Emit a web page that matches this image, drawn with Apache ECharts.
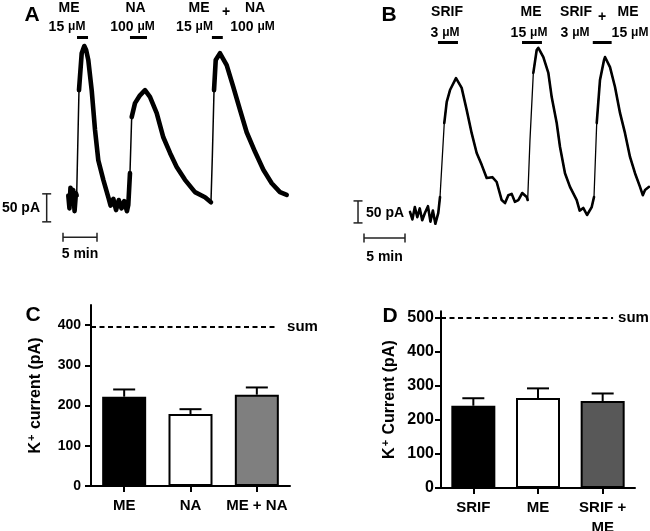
<!DOCTYPE html>
<html><head><meta charset="utf-8">
<script src="https://cdn.jsdelivr.net/npm/echarts@6/dist/echarts.min.js"></script>
<style>html,body{margin:0;padding:0;background:#fff}#c{width:650px;height:531px}</style>
</head><body><div id="c"></div>
<script>
const FONT = '"Liberation Sans", Arial, sans-serif';

// ---------- Panel A: K+ current trace (time in min, current in pA) ----------
const traceA_min = [0.78,0.95,1.1,1.3,1.5,1.7,1.9,2.01,2.35,2.75,3.13,3.4,3.72,4.22,4.71,5.19,5.93,6.66,7.0,7.4,7.8,8.2,8.6,9.0,9.4,9.6,9.85,10.10,10.59,11.32,12.06,12.79,13.78,14.75,15.74,16.72,17.94,19.41,20.88,21.76,21.96,22.21,22.46,23.09,24.07,25.04,26.03,27.01,28.24,29.46,30.69,31.91,32.90];
const traceA_pA  = [8,-15,22,-5,18,-20,12,8,196,262,275,268,250,196,125,71,36,5,-10,2,-18,0,-15,-2,-20,-9,48,148,173,187,196,184,155,112,84,59,36,14,5,-4,77,196,250,262,241,202,161,121,86,54,30,14,9];
const drugA_start = [2.06, 9.85, 21.9];
const drugA_end   = [3.68, 12.35, 23.5];
const drugA_level = 290;
const scaleA_pA = [-39, 11];      // 50 pA bar
const scaleA_min = [0, 5];        // 5 min bar

// ---------- Panel B ----------
const traceB_min = [5.61,5.9,6.2,6.5,6.8,7.1,7.44,7.8,8.1,8.4,8.7,9.06,9.27,9.55,9.79,10.09,10.49,11.22,11.91,12.52,13.13,13.74,14.35,14.96,15.65,16.18,16.79,17.20,17.6,18.01,18.4,18.82,19.3,19.84,19.96,20.24,20.65,21.06,21.26,21.87,22.48,22.89,23.50,23.90,24.51,25.12,25.94,26.3,26.74,27.2,27.77,28.05,28.38,28.78,29.27,29.39,30.00,30.61,31.22,31.83,32.44,33.05,33.66,34.0,34.27,34.76];
const traceB_pA  = [7,-10,18,-5,15,-12,5,20,-15,10,-20,5,41,132,209,257,284,311,289,239,186,141,114,84,86,75,34,27,45,48,30,34,50,41,34,170,323,375,380,359,323,268,209,155,95,64,34,10,16,0,18,41,209,307,352,359,336,291,232,186,132,95,64,45,57,64];
const drugB_start = [9.02, 19.27, 27.9];
const drugB_end   = [11.46, 21.7, 30.2];
const drugB_level = 392;
const scaleB_pA = [-18, 32];
const scaleB_min = [0, 5];

// ---------- Panel C ----------
const catsC = ['ME', 'NA', 'ME + NA'];
const meanC = [222, 179, 227];
const semC  = [18, 12, 18];
const sumC  = 395;
const ticksC = [0, 100, 200, 300, 400];

// ---------- Panel D ----------
const catsD = ['SRIF', 'ME', 'SRIF +\nME'];
const meanD = [242, 265, 256];
const semD  = [22, 28, 22];
const sumD  = 500;
const ticksD = [0, 100, 200, 300, 400, 500];

const colorsC = ['#000000', '#ffffff', '#7f7f7f'];
const colorsD = ['#000000', '#ffffff', '#585858'];

const zip = (a, b) => a.map((v, i) => [v, b[i]]);

const series = [];
// traces: thin line for the whole record, thicker (noisy-looking) band on slow phases
function traceSeries(xi, yi, t, v, thin, thick, fastSlope) {
  const out = [{type:'line', xAxisIndex:xi, yAxisIndex:yi, data: zip(t, v), showSymbol:false, symbol:'none',
    lineStyle:{color:'#000', width:thin, join:'round'}, silent:true}];
  let run = [];
  const flush = () => { if (run.length > 1) out.push({type:'line', xAxisIndex:xi, yAxisIndex:yi, data: run, showSymbol:false, symbol:'none',
    lineStyle:{color:'#000', width:thick, join:'round', cap:'round'}, silent:true}); run = []; };
  for (let i = 0; i < t.length - 1; i++) {
    const slope = Math.abs((v[i+1] - v[i]) / (t[i+1] - t[i]));
    if (slope < fastSlope) {
      if (!run.length) run.push([t[i], v[i]]);
      run.push([t[i+1], v[i+1]]);
    } else flush();
  }
  flush();
  return out;
}
series.push(...traceSeries(0, 0, traceA_min, traceA_pA, 1.5, 4.6, 300));
series.push(...traceSeries(1, 1, traceB_min, traceB_pA, 1.3, 2.6, 300));
// drug application bars
drugA_start.forEach((s, i) => series.push({type:'line', xAxisIndex:0, yAxisIndex:0, data:[[s, drugA_level],[drugA_end[i], drugA_level]], symbol:'none', lineStyle:{color:'#000', width:3}, silent:true}));
drugB_start.forEach((s, i) => series.push({type:'line', xAxisIndex:1, yAxisIndex:1, data:[[s, drugB_level],[drugB_end[i], drugB_level]], symbol:'none', lineStyle:{color:'#000', width:3}, silent:true}));
// scale bars
function scaleBar(xi, yi, pts, cap) {
  return {type:'line', xAxisIndex:xi, yAxisIndex:yi, data:pts, symbol:'rect', symbolSize:cap, showSymbol:true,
    lineStyle:{color:'#222', width:1.5}, itemStyle:{color:'#222'}, silent:true};
}
series.push(scaleBar(0, 0, [[-2.4, scaleA_pA[0]], [-2.4, scaleA_pA[1]]], [9, 1.5]));
series.push(scaleBar(0, 0, [[scaleA_min[0], -66.6], [scaleA_min[1], -66.6]], [1.5, 9]));
series.push(scaleBar(1, 1, [[-0.73, scaleB_pA[0]], [-0.73, scaleB_pA[1]]], [9, 1.5]));
series.push(scaleBar(1, 1, [[scaleB_min[0], -52.3], [scaleB_min[1], -52.3]], [1.5, 9]));

// bars
function bars(xi, yi, vals, colors) {
  return {type:'bar', xAxisIndex:xi, yAxisIndex:yi, barWidth:44, silent:true,
    data: vals.map((v, i) => ({value:v, itemStyle:{color:colors[i], borderColor:'#000', borderWidth:2}}))};
}
function errs(xi, yi, vals, e) {
  return {type:'custom', xAxisIndex:xi, yAxisIndex:yi, z:5, silent:true,
    data: vals.map((v, i) => [i, v, v + e[i]]),
    renderItem: (p, api) => {
      const b = api.coord([api.value(0), api.value(1)]);
      const t = api.coord([api.value(0), api.value(2)]);
      const hw = 11;
      return {type:'group', children:[
        {type:'line', shape:{x1:b[0], y1:b[1], x2:t[0], y2:t[1]}, style:{stroke:'#000', lineWidth:2}},
        {type:'line', shape:{x1:t[0]-hw, y1:t[1], x2:t[0]+hw, y2:t[1]}, style:{stroke:'#000', lineWidth:2}}
      ]};
    }};
}
function sumLine(xi, yi, v, end, dist) {
  return {type:'line', xAxisIndex:xi, yAxisIndex:yi, data:[[0, v],[end, v]], symbol:'none', silent:true,
    lineStyle:{color:'#000', width:2, type:[5, 3.5]},
    endLabel:{show:true, formatter:'sum', distance:dist, color:'#000', fontSize:15, fontWeight:'bold', fontFamily:FONT}};
}
series.push(bars(2, 2, meanC, colorsC), errs(2, 2, meanC, semC), sumLine(4, 2, sumC, 0.935, 10));
series.push(bars(3, 3, meanD, colorsD), errs(3, 3, meanD, semD), sumLine(5, 3, sumD, 0.887, 5));

const axisCommon = {axisLine:{show:true, lineStyle:{color:'#000', width:2}}, splitLine:{show:false}};
function valueY(gi, max, ticks, name, labelSize, gap, margin) {
  return Object.assign({gridIndex:gi, type:'value', min:0, max:max,
    axisTick:{show:true, length:6, lineStyle:{color:'#000', width:2}, customValues:ticks},
    axisLabel:{color:'#000', fontSize:labelSize, fontWeight:'bold', fontFamily:FONT, margin:margin, customValues:ticks},
    name:name, nameLocation:'middle', nameGap:gap, nameRotate:90,
    nameTextStyle:{color:'#000', rich:{
      a:{fontSize:16, fontWeight:'bold', fontFamily:FONT, color:'#000'},
      s:{fontSize:11, fontWeight:'bold', fontFamily:FONT, color:'#000', verticalAlign:'top', padding:[0,1,9,1]}
    }}}, axisCommon);
}
function catX(gi, cats) {
  return Object.assign({gridIndex:gi, type:'category', data:cats,
    axisTick:{show:true, alignWithLabel:true, length:6, lineStyle:{color:'#000', width:2}},
    axisLabel:{color:'#000', fontSize:15, fontWeight:'bold', fontFamily:FONT, margin:10, lineHeight:20, interval:0}}, axisCommon);
}

const G = [];
function txt(text, x, y, size, align) {
  G.push({type:'text', x:x, y:y, silent:true, style:{text:text, fontSize:size, fontWeight:'bold', fontFamily:FONT, fill:'#000', align:align || 'center', verticalAlign:'middle'}});
}
function conc(num, x, y) {
  G.push({type:'text', x:x, y:y, silent:true, style:{text:'{n|' + num + ' }{u|μM}', align:'center', verticalAlign:'middle',
    rich:{n:{fontSize:14, fontWeight:'bold', fontFamily:FONT, fill:'#000'}, u:{fontSize:12, fontWeight:'bold', fontFamily:FONT, fill:'#000'}}}});
}
txt('A', 32, 15, 21); txt('B', 389, 15, 21); txt('C', 33, 315, 21); txt('D', 390, 316, 21);
// A labels
txt('ME', 69, 8, 14); conc('15', 67, 27);
txt('NA', 135.5, 8, 14); conc('100', 132.5, 27);
txt('ME', 199, 8, 14); txt('+', 226, 12, 14); txt('NA', 255, 8, 14);
conc('15', 194.5, 27); conc('100', 252.5, 27);
// B labels
txt('SRIF', 447, 12, 14); conc('3', 445, 33);
txt('ME', 531, 12, 14); conc('15', 529, 33);
txt('SRIF', 576, 12, 14); txt('+', 602, 17, 14); txt('ME', 628, 12, 14);
conc('3', 575, 33); conc('15', 630, 33);
// scale bar labels
txt('50 pA', 40, 208, 14, 'right'); txt('5 min', 80, 254, 14);
txt('50 pA', 366, 213, 14, 'left'); txt('5 min', 384.5, 257, 14);

const option = {
  animation:false,
  backgroundColor:'#fff',
  grid:[
    {left:29, top:32, width:272, height:212.8, outerBoundsMode:'none'},
    {left:347.6, top:39, width:303.4, height:211.2, outerBoundsMode:'none'},
    {left:91, top:305, width:199, height:181, outerBoundsMode:'none'},
    {left:441, top:311.2, width:194, height:176.8, outerBoundsMode:'none'}
  ],
  xAxis:[
    {gridIndex:0, type:'value', min:-5, max:35, show:false},
    {gridIndex:1, type:'value', min:-2, max:35, show:false},
    catX(2, catsC),
    catX(3, catsD),
    {gridIndex:2, type:'value', min:0, max:1, show:false},
    {gridIndex:3, type:'value', min:0, max:1, show:false}
  ],
  yAxis:[
    {gridIndex:0, type:'value', min:-80, max:300, show:false},
    {gridIndex:1, type:'value', min:-80, max:400, show:false},
    valueY(2, 450, ticksC, '{a|K}{s|+}{a| current (pA)}', 14, 45, 10),
    valueY(3, 520, ticksD, '{a|K}{s|+}{a| Current (pA)}', 16, 41, 7)
  ],
  series:series,
  graphic:G
};
const chart = echarts.init(document.getElementById('c'), null, {renderer:'canvas'});
chart.setOption(option);
</script></body></html>
